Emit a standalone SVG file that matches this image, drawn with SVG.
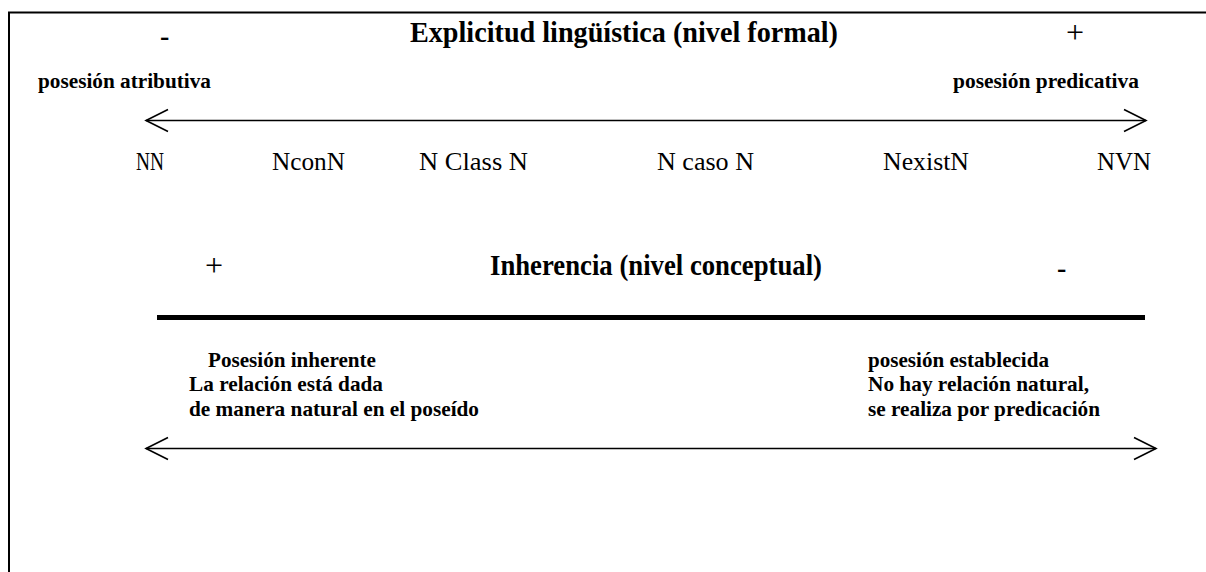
<svg xmlns="http://www.w3.org/2000/svg" width="1206" height="572" viewBox="0 0 1206 572">
<style>
text{font-family:"Times New Roman","Liberation Serif",serif;fill:#000}
.t{font-size:29px;font-weight:bold}
.n{font-size:26px}
.s{font-size:20px;font-weight:bold}
.p{font-size:21px;font-weight:bold}
.pm{font-size:32px}
.mn{font-size:28px;font-weight:bold}
.ln{stroke:#000;stroke-width:1.6;fill:none}
</style>
<rect width="1206" height="572" fill="#fff"/>
<path d="M9,572 V12.5 H1206" fill="none" stroke="#000" stroke-width="2"/>
<g id="formal">
<text class="mn" x="160" y="45">-</text>
<text class="t" x="410" y="42" textLength="428" lengthAdjust="spacingAndGlyphs">Explicitud lingüística (nivel formal)</text>
<text class="pm" x="1066" y="43">+</text>
<text class="s" x="38" y="88" textLength="173" lengthAdjust="spacingAndGlyphs">posesión atributiva</text>
<text class="s" x="953" y="88" textLength="186" lengthAdjust="spacingAndGlyphs">posesión predicativa</text>
</g>
<g id="nodes">
<g id="nn"><text class="n" x="136" y="170" textLength="28" lengthAdjust="spacingAndGlyphs">NN</text></g>
<g id="nconn"><text class="n" x="272" y="170" textLength="73" lengthAdjust="spacingAndGlyphs">NconN</text></g>
<g id="nclassn"><text class="n" x="419" y="170" textLength="109" lengthAdjust="spacingAndGlyphs">N Class N</text></g>
<g id="ncason"><text class="n" x="657" y="170" textLength="97" lengthAdjust="spacingAndGlyphs">N caso N</text></g>
<g id="nexistn"><text class="n" x="883" y="170" textLength="86" lengthAdjust="spacingAndGlyphs">NexistN</text></g>
<g id="nvn"><text class="n" x="1097" y="170" textLength="54" lengthAdjust="spacingAndGlyphs">NVN</text></g>
</g>
<g id="conceptual">
<text class="pm" x="205" y="276">+</text>
<text class="t" x="490" y="275" textLength="332" lengthAdjust="spacingAndGlyphs">Inherencia (nivel conceptual)</text>
<text class="mn" x="1057" y="277">-</text>
</g>
<g id="inherente">
<text class="p" x="208" y="367" textLength="168" lengthAdjust="spacingAndGlyphs">Posesión inherente</text>
<text class="p" x="189" y="391" textLength="194" lengthAdjust="spacingAndGlyphs">La relación está dada</text>
<text class="p" x="189" y="416" textLength="290" lengthAdjust="spacingAndGlyphs">de manera natural en el poseído</text>
</g>
<g id="establecida">
<text class="p" x="868" y="367" textLength="181" lengthAdjust="spacingAndGlyphs">posesión establecida</text>
<text class="p" x="868" y="391" textLength="221" lengthAdjust="spacingAndGlyphs">No hay relación natural,</text>
<text class="p" x="868" y="416" textLength="232" lengthAdjust="spacingAndGlyphs">se realiza por predicación</text>
</g>
<g id="connectors">
<line class="ln" x1="146" y1="120.5" x2="1146" y2="120.5"/>
<path class="ln" d="M168,109.5 L146,120.5 L168,131.5"/>
<path class="ln" d="M1124,109.5 L1146,120.5 L1124,131.5"/>
<line x1="157" y1="317.5" x2="1145" y2="317.5" stroke="#000" stroke-width="5"/>
<line class="ln" x1="146" y1="448.5" x2="1156" y2="448.5"/>
<path class="ln" d="M168,437.5 L146,448.5 L168,459.5"/>
<path class="ln" d="M1134,437.5 L1156,448.5 L1134,459.5"/>
</g>
</svg>
